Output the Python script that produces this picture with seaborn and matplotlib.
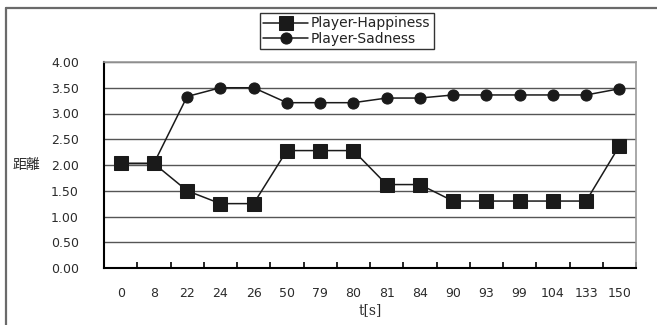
import numpy as np
import pandas as pd
import matplotlib
matplotlib.use("Agg")
import matplotlib.pyplot as plt
from matplotlib.lines import Line2D
from matplotlib.ticker import FixedLocator
import seaborn as sns

# Elapsed time points (categorical axis)
time_labels = ["0", "8", "22", "24", "26", "50", "79", "80", "81", "84",
               "90", "93", "99", "104", "133", "150"]
# Distance per condition
happiness = [2.03, 2.03, 1.50, 1.25, 1.25, 2.28, 2.28, 2.28, 1.62, 1.62,
             1.30, 1.30, 1.30, 1.30, 1.30, 2.37]
sadness = [2.03, 2.03, 3.33, 3.50, 3.50, 3.21, 3.21, 3.21, 3.30, 3.30,
           3.36, 3.36, 3.36, 3.36, 3.36, 3.48]
y_ticks = [0.0, 0.5, 1.0, 1.5, 2.0, 2.5, 3.0, 3.5, 4.0]

sns.set_theme(style="white")
plt.rcParams["font.family"] = ["DejaVu Sans", "Noto Sans CJK JP"]

n = len(time_labels)
df = pd.DataFrame({
    "pos": np.arange(n),
    "Player-Happiness": happiness,
    "Player-Sadness": sadness,
})

fig = plt.figure(figsize=(6.57, 3.25), dpi=100)
ax = fig.add_axes([104 / 657, 1 - 268 / 325, 532 / 657, 206 / 325])

line_col = "#1a1a1a"
sns.lineplot(data=df, x="pos", y="Player-Happiness", ax=ax, color=line_col,
             marker="s", markersize=10.5, linewidth=1.1,
             markeredgecolor=line_col, label="Player-Happiness", zorder=4)
sns.lineplot(data=df, x="pos", y="Player-Sadness", ax=ax, color=line_col,
             marker="o", markersize=8, linewidth=1.1,
             markeredgecolor=line_col, label="Player-Sadness", zorder=3)

ax.set_xlim(-0.5, n - 0.5)
ax.set_ylim(0, 4)
ax.set_yticks(y_ticks)
ax.set_yticklabels([f"{v:.2f}" for v in y_ticks])
ax.set_xticks(np.arange(n))
ax.set_xticklabels(time_labels)
ax.xaxis.set_minor_locator(FixedLocator(np.arange(n + 1) - 0.5))

ax.tick_params(axis="x", which="major", length=0, pad=14,
               labelsize=9, labelcolor="#2b2b2b")
ax.tick_params(axis="x", which="minor", direction="in", length=4,
               width=1.2, color="black", bottom=True)
ax.tick_params(axis="y", which="major", length=0, pad=18,
               labelsize=9, labelcolor="#2b2b2b")

ax.yaxis.grid(True, color="#555555", linewidth=1.0)
ax.xaxis.grid(False)
ax.set_axisbelow(True)

for side in ["left", "bottom"]:
    ax.spines[side].set_color("black")
    ax.spines[side].set_linewidth(1.5)
for side in ["top", "right"]:
    ax.spines[side].set_color("#9a9a9a")
    ax.spines[side].set_linewidth(1.2)

ax.set_ylabel("距離", rotation=0, fontsize=10, color="#2b2b2b",
              va="center", ha="center")
ax.yaxis.set_label_coords(-0.145, 0.5)
ax.set_xlabel("t[s]", fontsize=10, color="#2b2b2b",
              family=["DejaVu Serif"], va="center")
ax.xaxis.set_label_coords(0.5, -(310 - 268) / 206)

leg = ax.legend(loc="upper left",
                bbox_to_anchor=(260 / 657, 1 - 13 / 325),
                bbox_transform=fig.transFigure,
                frameon=True, fancybox=False, edgecolor="black",
                fontsize=10, handlelength=3.2, borderpad=0.25,
                labelspacing=0.1, handletextpad=0.2, borderaxespad=0)
leg.get_frame().set_linewidth(1.0)
for t in leg.get_texts():
    t.set_color("#222222")

# Outer figure frame (left and top edges)
fig.add_artist(Line2D([5.5 / 657, 5.5 / 657], [0, 1 - 7.5 / 325],
                      transform=fig.transFigure, color="#6a6a6a", linewidth=1.6))
fig.add_artist(Line2D([5.5 / 657, 1], [1 - 7.5 / 325, 1 - 7.5 / 325],
                      transform=fig.transFigure, color="#6a6a6a", linewidth=1.6))

fig.savefig("out.png", dpi=100)
